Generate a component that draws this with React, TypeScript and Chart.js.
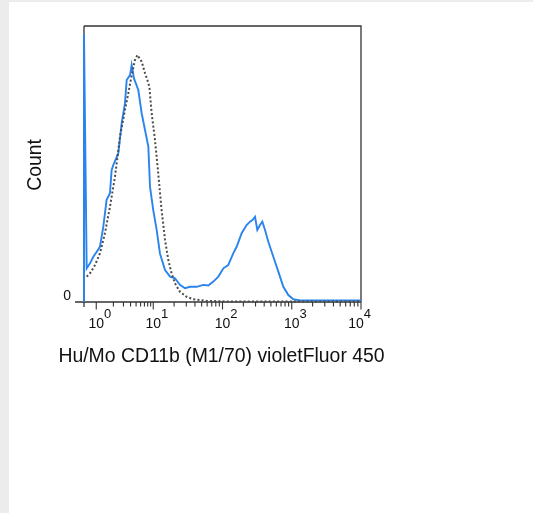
import { useEffect, useRef } from 'react';
import { Chart, registerables } from 'chart.js';

Chart.register(...registerables);

// Fluorescence intensity (x) and count (y, % of axis max) for the stained sample (blue)
const blueIntensity = [0, 0, 0.22, 0.49, 0.76, 1.02, 1.16, 1.33, 1.52, 1.74, 1.86, 1.99, 2.44, 2.79, 3.19, 3.42, 3.91, 4.18, 4.59, 5.47, 6.26, 7.17, 8.2, 8.77, 10, 11.2, 12.5, 14.8, 17.5, 20.6, 24.3, 28.7, 33.9, 42.4, 52.9, 62.4, 73.7, 87.1, 103, 121, 143, 160, 189, 223, 250, 273, 295, 318, 348, 376, 411, 459, 542, 640, 756, 893, 1054, 1315, 3194, 10000];
const blueCount = [0, 97, 12.2, 14.0, 16.4, 18.2, 20.0, 27.3, 37.0, 39.4, 47.8, 49.6, 53.9, 64.7, 72.0, 80.4, 82.2, 85.9, 81.0, 76.8, 68.4, 62.3, 56.3, 41.8, 33.3, 26.1, 17.6, 11.6, 9.2, 8.6, 6.2, 5.0, 5.5, 5.5, 6.2, 6.0, 7.4, 9.2, 12.2, 13.4, 17.6, 20.0, 24.9, 27.9, 29.1, 29.8, 30.9, 26.1, 27.9, 29.1, 26.1, 21.8, 16.4, 11.0, 5.5, 2.5, 1.0, 0.6, 0.6, 0.6];

// Control (dotted grey)
const isoIntensity = [0.22, 0.49, 0.9, 1.16, 1.42, 1.74, 2.13, 2.61, 3.19, 3.65, 4.18, 4.78, 5.26, 6.26, 7.17, 7.88, 8.54, 9.38, 10.6, 11.8, 13.2, 14.8, 16.5, 18.4, 20.6, 24.3, 30.4, 37.9, 59.1, 115, 10000];
const isoCount = [9.2, 10.4, 13.4, 17.6, 24.9, 34.5, 45.4, 59.9, 69.6, 75.6, 82.2, 87.7, 89.5, 87.1, 82.9, 80.4, 78.0, 68.4, 58.7, 46.6, 33.3, 22.5, 15.2, 10.4, 6.8, 3.7, 1.9, 1.0, 0.4, 0.2, 0.2];

const majorExponents = [0, 1, 2, 3, 4];
const minorMultipliers = [2, 3, 4, 5, 6, 7, 8, 9];
const xTitle = 'Hu/Mo CD11b (M1/70) violetFluor 450';
const yTitle = 'Count';
const yTickLabel = '0';

const FONT = '"Liberation Sans", Arial, sans-serif';
const AXIS_COLOR = '#333333';
const TEXT_COLOR = '#111111';
const BLUE = '#2a84ee';
const GREY = '#4a4a4a';

// biexponential-like display transform: first decade compressed, linear near zero
const R = 57 / 69.25;
function toAxis(v: number): number {
  if (v >= 10) return Math.log10(v);
  if (v >= 1) return 1 - (1 - Math.log10(v)) * R;
  return v * (1 - R);
}

const flowPlugin = {
  id: 'flowAxes',
  beforeDraw(chart: any) {
    const ctx = chart.ctx;
    ctx.save();
    ctx.fillStyle = '#ececec';
    ctx.fillRect(0, 0, chart.width, chart.height);
    ctx.fillStyle = '#ffffff';
    ctx.fillRect(9, 2, chart.width - 9, chart.height - 2);
    ctx.restore();
  },
  beforeDatasetsDraw(chart: any) {
    const { ctx, chartArea: a, scales } = chart;
    const xs = scales.x;
    const y0 = scales.y.getPixelForValue(0);
    ctx.save();
    ctx.strokeStyle = AXIS_COLOR;
    ctx.lineWidth = 1.3;
    ctx.beginPath();
    ctx.moveTo(a.left, a.top);
    ctx.lineTo(a.right, a.top);
    ctx.lineTo(a.right, y0);
    ctx.stroke();
    ctx.beginPath();
    ctx.moveTo(a.left, a.top);
    ctx.lineTo(a.left, y0 + 5);
    ctx.stroke();
    ctx.beginPath();
    ctx.moveTo(a.left - 9, y0);
    ctx.lineTo(a.right, y0);
    ctx.stroke();
    ctx.lineWidth = 1.1;
    ctx.beginPath();
    for (let n = 0; n < 4; n++) {
      for (const k of minorMultipliers) {
        const px = xs.getPixelForValue(toAxis(k * Math.pow(10, n)));
        ctx.moveTo(px, y0);
        ctx.lineTo(px, y0 + 4.5);
      }
    }
    for (const e of majorExponents) {
      const px = xs.getPixelForValue(toAxis(Math.pow(10, e)));
      ctx.moveTo(px, y0);
      ctx.lineTo(px, y0 + 7.5);
    }
    ctx.stroke();
    ctx.restore();
  },
  afterDraw(chart: any) {
    const { ctx, chartArea: a, scales } = chart;
    const xs = scales.x;
    const y0 = scales.y.getPixelForValue(0);
    ctx.save();
    ctx.fillStyle = TEXT_COLOR;
    // x tick labels 10^n
    for (const e of majorExponents) {
      const px = xs.getPixelForValue(toAxis(Math.pow(10, e)));
      ctx.font = `14px ${FONT}`;
      const baseW = ctx.measureText('10').width;
      ctx.font = `13px ${FONT}`;
      const supW = ctx.measureText(String(e)).width;
      let start = px - baseW / 2;
      if (start + baseW + supW > 371) start = 371 - baseW - supW;
      ctx.textAlign = 'left';
      ctx.textBaseline = 'alphabetic';
      ctx.font = `14px ${FONT}`;
      ctx.fillText('10', start, y0 + 26);
      ctx.font = `13px ${FONT}`;
      ctx.fillText(String(e), start + baseW, y0 + 16);
    }
    // y tick label
    ctx.font = `14px ${FONT}`;
    ctx.textAlign = 'right';
    ctx.fillText(yTickLabel, a.left - 13, y0 - 2);
    // x title
    ctx.font = `19.4px ${FONT}`;
    ctx.textAlign = 'center';
    ctx.fillText(xTitle, 221.5, y0 + 60);
    // y title
    ctx.save();
    ctx.translate(40.5, 165);
    ctx.rotate(-Math.PI / 2);
    ctx.textAlign = 'center';
    ctx.fillText(yTitle, 0, 0);
    ctx.restore();
    ctx.restore();
  },
};

export default function App() {
  const ref = useRef<HTMLCanvasElement>(null);
  useEffect(() => {
    const blueData = blueIntensity.map((v, i) => ({ x: toAxis(v), y: blueCount[i] }));
    const isoData = isoIntensity.map((v, i) => ({ x: toAxis(v), y: isoCount[i] }));
    const chart = new Chart(ref.current as HTMLCanvasElement, {
      type: 'line',
      data: {
        datasets: [
          {
            label: 'Control',
            data: isoData,
            borderColor: GREY,
            borderWidth: 2,
            borderDash: [2, 2.2],
            pointRadius: 0,
            tension: 0,
            fill: false,
            clip: 4,
          },
          {
            label: 'CD11b',
            data: blueData,
            borderColor: BLUE,
            borderWidth: 1.9,
            pointRadius: 0,
            tension: 0,
            fill: false,
            clip: 4,
          },
        ],
      } as any,
      options: {
        responsive: false,
        animation: false,
        events: [],
        layout: { padding: { left: 84, top: 26, right: 172, bottom: 211 } },
        plugins: { legend: { display: false }, tooltip: { enabled: false }, title: { display: false } },
        scales: {
          x: { type: 'linear', min: 0, max: 4, display: false },
          y: { type: 'linear', min: 0, max: 100, display: false },
        },
      },
      plugins: [flowPlugin],
    });
    return () => chart.destroy();
  }, []);
  return (
    <div style={{ position: 'absolute', left: 0, top: 0, width: 533, height: 513 }}>
      <canvas ref={ref} width={533} height={513} style={{ display: 'block', width: 533, height: 513 }} />
    </div>
  );
}
